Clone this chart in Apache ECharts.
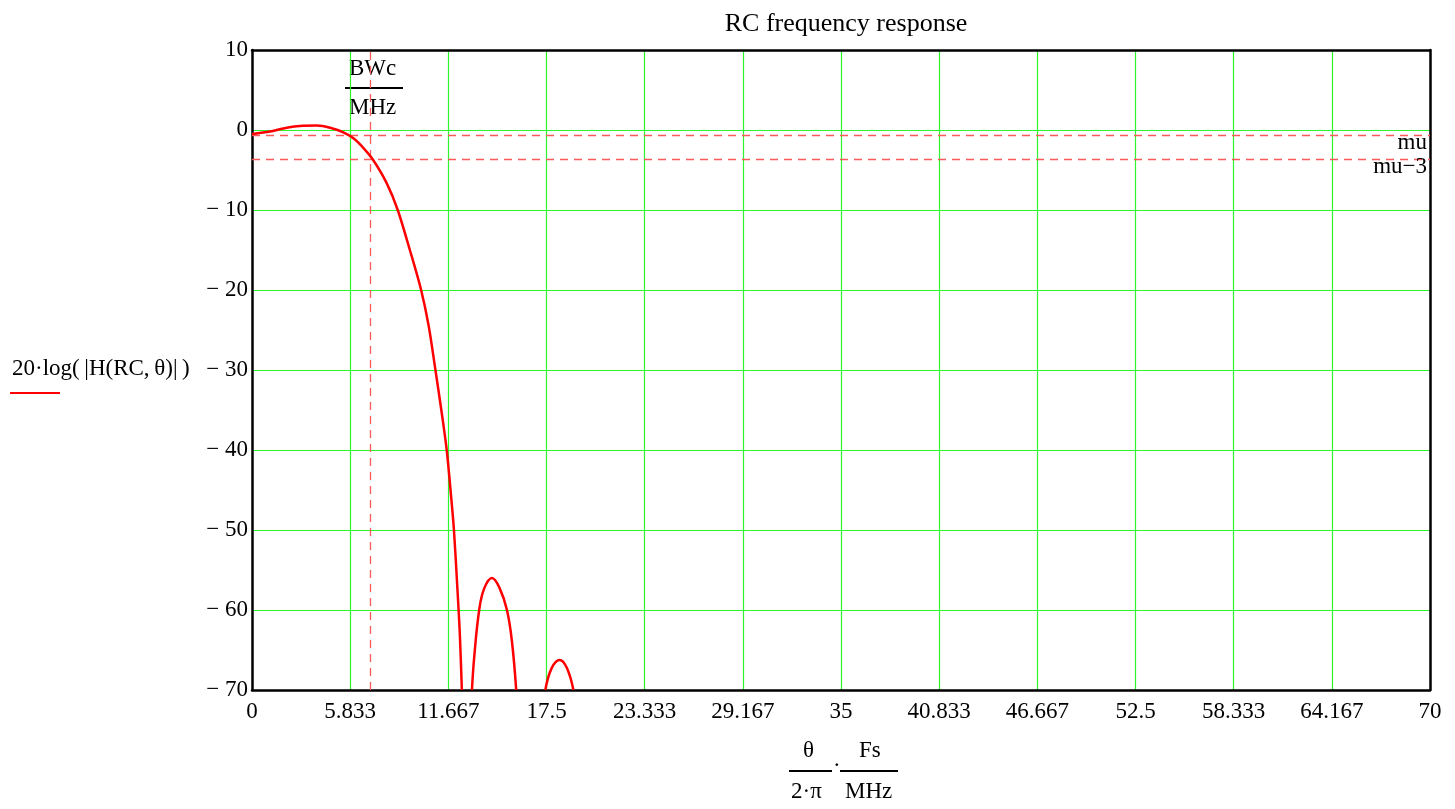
<!DOCTYPE html>
<html>
<head>
<meta charset="utf-8">
<script src="https://cdn.jsdelivr.net/npm/echarts@6/dist/echarts.min.js"></script>
<style>
html,body{margin:0;padding:0;background:#fff;}
#chart{width:1455px;height:809px;}
</style>
</head>
<body>
<div id="chart"></div>
<script>
// ---- data ----
const title = 'RC frequency response';
const xTickLabels = ['0','5.833','11.667','17.5','23.333','29.167','35','40.833','46.667','52.5','58.333','64.167','70'];
const yTickValues = [10, 0, -10, -20, -30, -40, -50, -60, -70];

// main lobe (frequency in MHz, response in dB)
const mainFreq = [0, 1.07, 1.86, 2.85, 3.85, 4.64, 5.43, 6.03, 6.6, 7.2, 8.01, 8.66, 9.38, 10.05, 10.5, 10.9, 11.25, 11.57, 11.84, 12.0, 12.21, 12.35, 12.47];
const mainDb   = [-0.5, -0.2, 0.2, 0.5, 0.55, 0.29, -0.29, -1.04, -2.2, -3.75, -6.67, -10, -15, -20, -24.5, -30, -35, -40, -46, -50, -57.5, -63, -70];
// second lobe
const lobe2Freq = [13.07, 13.2, 13.5, 13.8, 14.26, 14.7, 15.15, 15.45, 15.7];
const lobe2Db   = [-70, -66, -60, -57.3, -56, -57.2, -60, -64, -70];
// third lobe
const lobe3Freq = [17.43, 17.8, 18.28, 18.7, 19.1];
const lobe3Db   = [-70, -67.3, -66.25, -67.2, -70];

// markers
const mu = -0.65;
const muMinus3 = mu - 3;
const BWc = 7.0;

const xMin = 0, xMax = 70, xStep = 70 / 12;
const yMin = -70, yMax = 10, yStep = 10;

const serif = '"Liberation Serif","Times New Roman",serif';
const zip = (a, b) => a.map((v, i) => [v, b[i]]);

const curveStyle = { color: '#ff0000', width: 2.5 };
function lobe(freq, db, s) {
  return {
    type: 'line', data: zip(freq, db), smooth: s, showSymbol: false,
    lineStyle: curveStyle, itemStyle: { color: '#ff0000' }, clip: true, z: 5, silent: true
  };
}

const chart = echarts.init(document.getElementById('chart'), null, { renderer: 'canvas' });
const dashed = { color: '#ff5a5a', width: 1.3, type: [8, 6] };
const gridGreen = { color: '#2cf52c', width: 1.2 };
const frameLine = { show: true, onZero: false, lineStyle: { color: '#000', width: 2.5 } };
const lblFont = 23;

chart.setOption({
  animation: false,
  backgroundColor: '#fff',
  title: {
    text: title, left: 841, top: 6, textAlign: 'center',
    textStyle: { fontFamily: serif, fontSize: 26, fontWeight: 'normal', color: '#000' }
  },
  grid: { left: 252, right: 25, top: 50, bottom: 119 },
  xAxis: [{
    type: 'value', min: xMin, max: xMax, interval: xStep, position: 'bottom',
    axisLine: frameLine,
    axisTick: { show: false },
    splitLine: { show: true, showMinLine: false, showMaxLine: false, lineStyle: gridGreen },
    axisLabel: {
      margin: 10, color: '#000', fontFamily: serif, fontSize: lblFont,
      formatter: (v) => {
        const idx = Math.round(v / xStep);
        return xTickLabels[idx] !== undefined ? xTickLabels[idx] : '';
      }
    }
  }, {
    type: 'value', min: xMin, max: xMax, interval: xStep, position: 'top', z: 4,
    axisLine: frameLine, axisTick: { show: false }, axisLabel: { show: false }, splitLine: { show: false }
  }],
  yAxis: [{
    type: 'value', min: yMin, max: yMax, interval: yStep, position: 'left',
    axisLine: frameLine,
    axisTick: { show: false },
    splitLine: { show: true, showMinLine: false, showMaxLine: false, lineStyle: gridGreen },
    axisLabel: {
      margin: 4, color: '#000', fontFamily: serif, fontSize: lblFont,
      formatter: (v) => {
        const t = yTickValues.find(y => Math.abs(y - v) < 1e-6);
        if (t === undefined) return '';
        return t < 0 ? '\u2212 ' + Math.abs(t) : String(t);
      }
    }
  }, {
    type: 'value', min: yMin, max: yMax, interval: yStep, position: 'right', z: 4,
    axisLine: frameLine, axisTick: { show: false }, axisLabel: { show: false }, splitLine: { show: false }
  }],
  series: [
    lobe(mainFreq, mainDb, 0.3),
    lobe(lobe2Freq, lobe2Db, 0.4),
    lobe(lobe3Freq, lobe3Db, 0.4),
    {
      type: 'line', data: [], silent: true,
      markLine: {
        symbol: 'none', silent: true, animation: false,
        lineStyle: dashed,
        label: { show: false },
        data: [
          { yAxis: mu, label: { show: true, formatter: 'mu', position: 'insideEndBottom', distance: [3, -4], color: '#000', fontFamily: serif, fontSize: lblFont } },
          { yAxis: muMinus3, label: { show: true, formatter: 'mu\u22123', position: 'insideEndBottom', distance: [3, -4], color: '#000', fontFamily: serif, fontSize: lblFont } },
          { xAxis: BWc, label: { show: false } }
        ]
      }
    }
  ],
  graphic: [
    // BWc / MHz annotation near the vertical marker
    { type: 'text', left: 349, top: 57, style: { text: 'BWc', font: '23px ' + serif, fill: '#000' } },
    { type: 'line', shape: { x1: 345, y1: 88, x2: 403, y2: 88 }, style: { stroke: '#000', lineWidth: 2 } },
    { type: 'text', left: 349, top: 96, style: { text: 'MHz', font: '23px ' + serif, fill: '#000' } },
    // y-axis expression
    { type: 'text', left: 12, top: 357, style: { text: '20\u00b7log(\u2009|H(RC,\u2009\u03b8)|\u2009)', font: '23px ' + serif, fill: '#000' } },
    { type: 'line', shape: { x1: 10, y1: 393, x2: 60, y2: 393 }, style: { stroke: '#ff0000', lineWidth: 2 } },
    // x-axis expression
    { type: 'text', left: 803, top: 739, style: { text: '\u03b8', font: '23px ' + serif, fill: '#000' } },
    { type: 'line', shape: { x1: 789, y1: 771, x2: 832, y2: 771 }, style: { stroke: '#000', lineWidth: 2 } },
    { type: 'text', left: 833, top: 754, style: { text: '\u00b7', font: '23px ' + serif, fill: '#000' } },
    { type: 'text', left: 791, top: 780, style: { text: '2\u00b7\u03c0', font: '23px ' + serif, fill: '#000' } },
    { type: 'text', left: 859, top: 739, style: { text: 'Fs', font: '23px ' + serif, fill: '#000' } },
    { type: 'line', shape: { x1: 840, y1: 771, x2: 898, y2: 771 }, style: { stroke: '#000', lineWidth: 2 } },
    { type: 'text', left: 845, top: 780, style: { text: 'MHz', font: '23px ' + serif, fill: '#000' } }
  ]
});
</script>
</body>
</html>
